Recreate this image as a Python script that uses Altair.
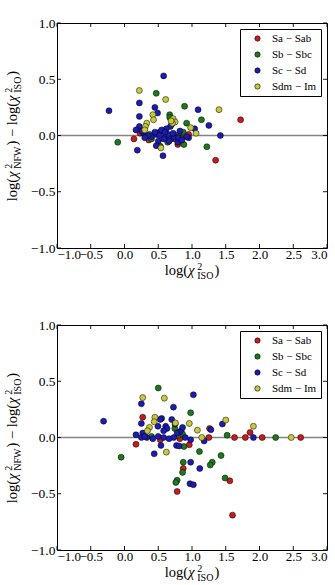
import altair as alt
import pandas as pd

# ---------------- data: log(chi2_ISO) vs log(chi2_NFW) - log(chi2_ISO) ----------------
# upper panel
top_sa_x = [1.72, 1.35, 0.14, 0.23, 0.36, 0.79, 0.95, 0.85, 0.75]
top_sa_y = [0.14, -0.22, -0.03, 0.02, -0.04, -0.08, 0.01, 0.01, -0.03]

top_sb_x = [-0.10, 0.47, 0.89, 0.67, 0.92, 1.14, 1.22, 0.88, 0.64, 0.53, 0.67, 0.70, 0.82, 0.37, 0.40, 0.78, 0.87]
top_sb_y = [-0.06, 0.375, 0.26, 0.185, 0.11, 0.14, -0.10, -0.08, -0.06, -0.095, 0.16, 0.10, 0.02, 0.01, -0.03, 0.0, 0.03]

top_sc_x = [0.58, -0.23, 0.22, 0.45, 0.49, 0.22, 1.09, 1.25, 1.42, 1.04, 0.19, 0.57, 0.68, 0.22, 0.17,
            0.28, 0.40, 0.47, 0.52, 0.62, 0.61, 0.69, 0.74, 0.82, 0.79, 0.95, 0.50, 0.47, 0.58, 0.52,
            0.35, 0.30, 0.65, 0.72, 0.80, 0.92, 0.55, 0.45, 0.26, 0.60, 0.66, 0.85]
top_sc_y = [0.53, 0.22, 0.29, 0.25, 0.20, 0.17, 0.23, 0.09, 0.0, 0.06, -0.13, -0.18, 0.08, 0.08, 0.05,
            0.02, -0.01, 0.01, 0.03, 0.06, -0.01, -0.03, -0.01, 0.04, -0.06, -0.02, -0.05, -0.09, -0.03, 0.0,
            0.0, -0.02, 0.01, 0.02, -0.02, -0.01, 0.05, 0.03, 0.04, 0.03, -0.05, -0.04]

top_sd_x = [0.22, 0.61, 1.40, 0.42, 0.43, 0.33, 0.31, 0.30, 0.72, 0.75, 0.71, 0.98, 1.06, 0.54, 0.69]
top_sd_y = [0.40, 0.32, 0.23, 0.185, 0.14, 0.11, 0.08, 0.05, 0.15, 0.12, 0.11, 0.07, 0.02, -0.11, 0.13]

# lower panel
bot_sa_x = [0.27, 0.17, 0.53, 0.82, 0.96, 0.87, 0.78, 1.25, 1.26, 1.56, 1.60, 1.63, 1.79, 1.86, 2.04, 2.61]
bot_sa_y = [0.18, -0.06, -0.02, -0.01, -0.065, -0.275, -0.48, 0.0, 0.08, -0.385, -0.69, 0.0, 0.0, 0.045, 0.0, 0.0]

bot_sb_x = [0.50, 0.98, -0.05, 1.11, 1.43, 1.30, 1.27, 0.87, 0.86, 0.78, 0.76, 1.49, 1.52, 0.88, 0.745,
            0.84, 0.80, 0.86, 2.24, 0.40]
bot_sb_y = [0.44, 0.22, -0.175, -0.125, -0.16, -0.22, -0.245, -0.22, -0.31, -0.38, -0.40, -0.36, 0.02, -0.08, 0.08,
            0.06, 0.02, 0.03, 0.0, 0.01]

bot_sc_x = [-0.31, 1.02, 0.725, 0.25, 0.25, 0.55, 0.53, 0.70, 0.61, 0.63, 0.495, 0.58, 0.17, 0.27, 0.44,
            0.54, 0.77, 0.81, 0.98, 1.115, 0.97, 1.02, 1.28, 1.45, 1.18, 0.98, 0.86, 0.82, 0.33, 0.42,
            0.50, 0.58, 0.66, 0.73, 0.90, 0.25, 1.91, 0.75, 0.78, 0.30]
bot_sc_y = [0.145, 0.38, 0.27, 0.30, 0.125, 0.17, 0.16, 0.16, 0.10, 0.08, 0.10, 0.06, 0.024, 0.04, -0.145,
            -0.07, -0.07, -0.075, -0.22, -0.275, -0.41, -0.42, 0.07, 0.12, -0.03, -0.02, 0.09, 0.05, 0.0, -0.01,
            0.01, 0.0, -0.01, 0.0, 0.0, 0.0, 0.0, 0.12, 0.04, 0.01]

bot_sd_x = [0.27, 0.59, 0.45, 0.44, 0.37, 0.34, 0.755, 0.96, 1.08, 1.145, 1.50, 1.91, 2.47, 0.62]
bot_sd_y = [0.355, 0.35, 0.18, 0.14, 0.09, 0.06, 0.13, 0.125, 0.065, 0.0, 0.155, 0.10, 0.0, -0.13]

TYPES = ["Sa − Sab", "Sb − Sbc", "Sc − Sd", "Sdm − Im"]
COLORS = ["#c81c1c", "#1c7a1c", "#1c1cb0", "#c8c83c"]

X_TICKS = [-1.0, -0.5, 0.0, 0.5, 1.0, 1.5, 2.0, 2.5, 3.0]
Y_TICKS = [-1.0, -0.5, 0.0, 0.5, 1.0]

# ---------------- layout / style ----------------
W_PLOT, H_PLOT = 270, 225
SERIF = "Liberation Serif, Times New Roman, serif"
MAIN, SCRIPT = 14.5, 10
SUP_SHIFT, SUB_SHIFT = -5.5, 4
TICK_LEN = 4

xscale = alt.Scale(domain=[-1, 3], nice=False, zero=False)
yscale = alt.Scale(domain=[-1, 1], nice=False, zero=False)
x_axis = alt.Axis(values=X_TICKS, format=".1f", ticks=False, domain=False, grid=False, title=None,
                  labelFont=SERIF, labelFontSize=13, labelColor="black", labelPadding=0,
                  labelOverlap=False)
y_axis = alt.Axis(values=Y_TICKS, format=".1f", ticks=False, domain=False, grid=False, title=None,
                  labelFont=SERIF, labelFontSize=13.5, labelColor="black", labelPadding=2,
                  labelOverlap=False)
DUMMY = pd.DataFrame({"k": [0]})

# approximate advance widths (em) of the serif face, used to set sub/superscripts
WIDTHS = {"l": .278, "o": .5, "g": .5, "(": .333, ")": .333, " ": .25, "−": .564,
          "I": .333, "S": .556, "O": .722, "N": .722, "F": .556, "W": .944, "2": .5, "χ": .56}


def text_width(s, size):
    return sum(WIDTHS.get(c, 0.5) for c in s) * size


def math_title(parts, center, base, vertical):
    """Lay out a label with stacked super/subscripts as a list of text layers."""
    items, pos = [], 0.0
    for p in parts:
        if p[0] == "txt":
            _, s, italic = p
            items.append((s, MAIN, italic, pos, 0))
            pos += text_width(s, MAIN)
        else:
            _, sup, sub = p
            pos += 1
            items.append((sup, SCRIPT, False, pos, SUP_SHIFT))
            items.append((sub, SCRIPT, False, pos, SUB_SHIFT))
            pos += max(text_width(sup, SCRIPT), text_width(sub, SCRIPT)) + 1
    total = pos
    layers = []
    for s, size, italic, off, shift in items:
        if vertical:
            px, py, angle = base + shift, center + total / 2 - off, 270
        else:
            px, py, angle = center - total / 2 + off, base + shift, 0
        layers.append(
            alt.Chart(DUMMY).mark_text(
                text=s, font=SERIF, fontSize=size,
                fontStyle="italic" if italic else "normal",
                align="left", baseline="alphabetic", angle=angle, color="black",
            ).encode(x=alt.value(px), y=alt.value(py))
        )
    return layers


X_TITLE = [("txt", "log(", False), ("txt", "χ", True), ("stack", "2", "ISO"), ("txt", ")", False)]
Y_TITLE = [("txt", "log(", False), ("txt", "χ", True), ("stack", "2", "NFW"),
           ("txt", ") − log(", False), ("txt", "χ", True), ("stack", "2", "ISO"), ("txt", ")", False)]


def points_frame(groups):
    rows = []
    for name, (xs, ys) in zip(TYPES, groups):
        for x, y in zip(xs, ys):
            rows.append({"x": x, "y": y, "type": name})
    return pd.DataFrame(rows)


def panel(groups):
    df = points_frame(groups)
    xt = pd.DataFrame({"v": X_TICKS})
    yt = pd.DataFrame({"v": Y_TICKS})

    zero = alt.Chart(pd.DataFrame({"y": [0.0]})).mark_rule(
        color="#858585", strokeWidth=1.6
    ).encode(y=alt.Y("y:Q", scale=yscale, axis=y_axis))

    # inward ticks on all four sides
    tick_style = dict(color="black", thickness=0.9, size=TICK_LEN, opacity=1)
    tb = alt.Chart(xt).mark_tick(orient="vertical", **tick_style).encode(
        x=alt.X("v:Q", scale=xscale, axis=x_axis), y=alt.value(H_PLOT - TICK_LEN / 2))
    tt = alt.Chart(xt).mark_tick(orient="vertical", **tick_style).encode(
        x=alt.X("v:Q", scale=xscale, axis=x_axis), y=alt.value(TICK_LEN / 2))
    tl = alt.Chart(yt).mark_tick(orient="horizontal", **tick_style).encode(
        y=alt.Y("v:Q", scale=yscale, axis=y_axis), x=alt.value(TICK_LEN / 2))
    tr = alt.Chart(yt).mark_tick(orient="horizontal", **tick_style).encode(
        y=alt.Y("v:Q", scale=yscale, axis=y_axis), x=alt.value(W_PLOT - TICK_LEN / 2))

    pts = alt.Chart(df).mark_circle(
        size=36, opacity=1, stroke="black", strokeWidth=0.6, strokeOpacity=0.85
    ).encode(
        x=alt.X("x:Q", scale=xscale, axis=x_axis),
        y=alt.Y("y:Q", scale=yscale, axis=y_axis),
        color=alt.Color("type:N", scale=alt.Scale(domain=TYPES, range=COLORS), legend=alt.Legend(
            title=None, orient="top-right", offset=6, padding=4, strokeColor="black",
            fillColor="white", cornerRadius=0, labelFont=SERIF, labelFontSize=11,
            labelColor="black", symbolType="circle", symbolSize=28, symbolStrokeColor="black",
            symbolStrokeWidth=0.6, symbolOffset=8, rowPadding=4, labelOffset=9)),
    )

    layers = [zero, tb, tt, tl, tr, pts]
    layers += math_title(X_TITLE, W_PLOT / 2, H_PLOT + 27, vertical=False)
    layers += math_title(Y_TITLE, 113, -40, vertical=True)
    return alt.layer(*layers).properties(width=W_PLOT, height=H_PLOT)


top = panel([(top_sa_x, top_sa_y), (top_sb_x, top_sb_y), (top_sc_x, top_sc_y), (top_sd_x, top_sd_y)])
bottom = panel([(bot_sa_x, bot_sa_y), (bot_sb_x, bot_sb_y), (bot_sc_x, bot_sc_y), (bot_sd_x, bot_sd_y)])

chart = alt.vconcat(top, bottom, spacing=77, bounds="flush").resolve_scale(
    color="independent"
).resolve_legend(color="independent").properties(
    padding={"left": 2, "top": 15, "right": 0, "bottom": 0}, background="white"
).configure(
    font=SERIF
).configure_axis(
    labelFont=SERIF
).configure_legend(
    labelFont=SERIF
).configure_view(stroke="black", strokeWidth=1)

chart.save("out.html", embed_options={"renderer": "svg", "actions": False})
